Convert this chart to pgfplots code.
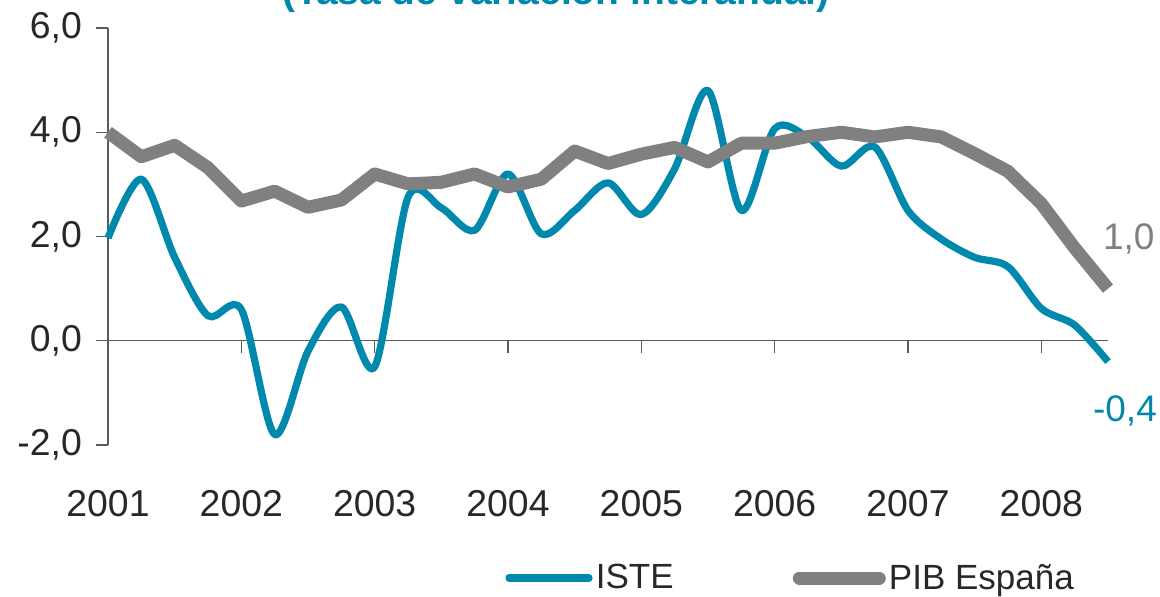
\documentclass[border=0pt]{standalone}
\usepackage{pgfplots}
\pgfplotsset{compat=1.18}
\usepackage{fontspec}
\setmainfont{Liberation Sans}
\definecolor{iste}{RGB}{0,137,173}
\definecolor{pib}{RGB}{128,128,128}
\definecolor{axisgray}{RGB}{90,90,90}
\definecolor{txt}{RGB}{40,40,40}
\begin{document}
\begin{tikzpicture}
\begin{axis}[
  width=500pt, height=208.5pt, scale only axis,
  xmin=2001, xmax=2008.5, ymin=-2, ymax=6,
  axis y line=left, axis x line=bottom,
  axis line style={-},
  x axis line style={draw=none},
  y axis line style={axisgray, line width=0.6pt},
  ytick={-2,0,2,4,6},
  yticklabels={{-2,0},{0,0},{2,0},{4,0},{6,0}},
  xtick={2001,2002,2003,2004,2005,2006,2007,2008},
  xticklabels={2001,2002,2003,2004,2005,2006,2007,2008},
  xtick style={draw=none},
  ytick style={axisgray, line width=0.6pt},
  tick align=outside,
  major tick length=6pt,
  ticklabel style={font=\fontsize{18.7}{22}\selectfont, text=txt},
  xticklabel style={yshift=-13pt},
  yticklabel style={xshift=-3.5pt},
  clip=false,
  legend style={at={(0.397,-0.319)}, anchor=west, draw=none, fill=none,
    inner sep=0pt, font=\fontsize{17.5}{21}\selectfont, text=txt,
    legend columns=2,
    nodes={inner sep=1.6pt},
    /tikz/every even column/.append style={column sep=58pt}},
  legend image code/.code={\draw[#1, line cap=round] (0pt,0pt) -- (40pt,0pt);},
]
\draw[axisgray, line width=0.6pt] (axis cs:2001,0) -- (axis cs:2008.5,0);
\pgfplotsinvokeforeach{2001,2002,2003,2004,2005,2006,2007,2008}{
  \draw[axisgray, line width=0.6pt] (axis cs:#1,0) -- ([yshift=-6pt]axis cs:#1,0);
}
\addplot[iste, line width=3.6pt, smooth, line join=round] coordinates {
(2001.00,1.97) (2001.25,3.10) (2001.50,1.60) (2001.75,0.48)
(2002.00,0.60) (2002.25,-1.80) (2002.50,-0.20) (2002.75,0.65)
(2003.00,-0.50) (2003.25,2.75) (2003.50,2.55) (2003.75,2.12)
(2004.00,3.20) (2004.25,2.05) (2004.50,2.50) (2004.75,3.03)
(2005.00,2.42) (2005.25,3.30) (2005.50,4.80) (2005.75,2.50)
(2006.00,4.07) (2006.25,3.90) (2006.50,3.35) (2006.75,3.72)
(2007.00,2.50) (2007.25,1.95) (2007.50,1.60) (2007.75,1.42)
(2008.00,0.62) (2008.25,0.30) (2008.50,-0.40)
};
\addlegendentry{ISTE}
\addplot[pib, line width=6.5pt, line join=round] coordinates {
(2001.00,4.00) (2001.25,3.53) (2001.50,3.75) (2001.75,3.32)
(2002.00,2.68) (2002.25,2.87) (2002.50,2.56) (2002.75,2.70)
(2003.00,3.20) (2003.25,3.01) (2003.50,3.04) (2003.75,3.20)
(2004.00,2.95) (2004.25,3.10) (2004.50,3.64) (2004.75,3.40)
(2005.00,3.58) (2005.25,3.71) (2005.50,3.43) (2005.75,3.79)
(2006.00,3.79) (2006.25,3.92) (2006.50,4.00) (2006.75,3.91)
(2007.00,4.00) (2007.25,3.91) (2007.50,3.59) (2007.75,3.25)
(2008.00,2.63) (2008.25,1.78) (2008.50,1.00)
};
\addlegendentry{PIB España}
\node[anchor=west, inner sep=0pt, text=pib, font=\fontsize{18.5}{22}\selectfont] at (axis cs:2008.46,1.96) {1,0};
\node[anchor=west, inner sep=0pt, text=iste, font=\fontsize{18.5}{22}\selectfont] at (axis cs:2008.385,-1.35) {-0,4};
\end{axis}
\node[anchor=base, text=iste, font=\bfseries\fontsize{19.5}{22}\selectfont, inner sep=0pt] at (224pt,220.5pt) {(Tasa de variación interanual)};
\pgfresetboundingbox
\useasboundingbox (-54pt,-75.5pt) rectangle (526pt,222.5pt);
\end{tikzpicture}
\end{document}
